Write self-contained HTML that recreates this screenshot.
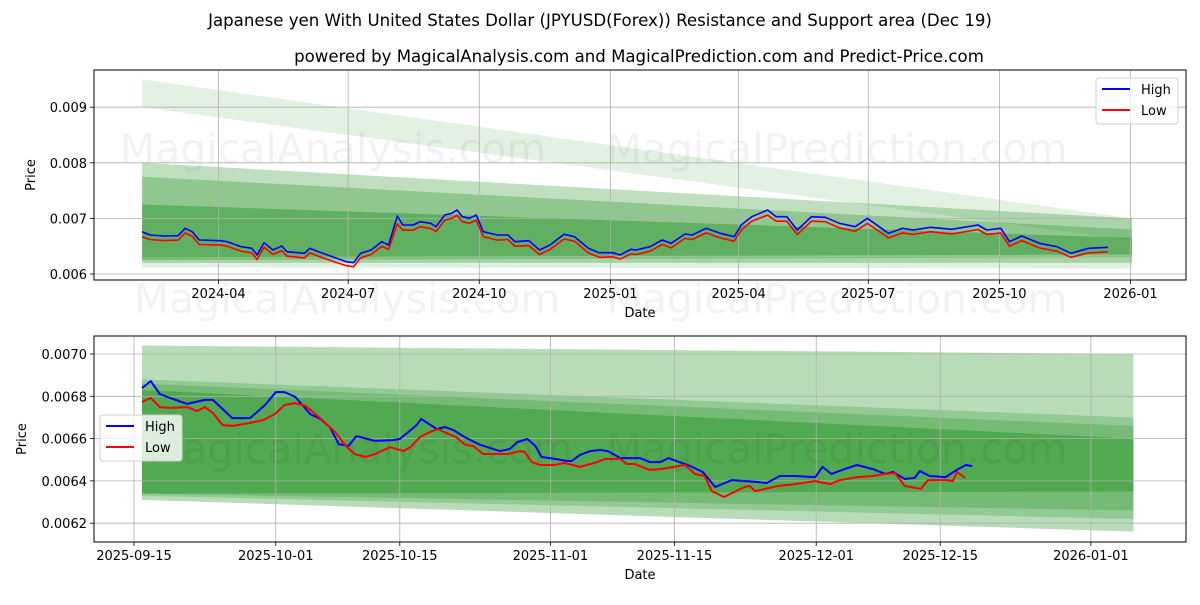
<!DOCTYPE html>
<html><head><meta charset="utf-8">
<style>
body{margin:0;background:#fff;}
svg text{font-family:"DejaVu Sans","Liberation Sans",sans-serif;}
</style></head>
<body>
<svg id="fig" width="1200" height="600" viewBox="0 0 1200 600" xmlns="http://www.w3.org/2000/svg">
<rect width="1200" height="600" fill="#fff"/>
<text x="600" y="26" font-size="16.6" text-anchor="middle">Japanese yen With United States Dollar (JPYUSD(Forex)) Resistance and Support area (Dec 19)</text>
<text x="639" y="62" font-size="16.6" text-anchor="middle">powered by MagicalAnalysis.com and MagicalPrediction.com and Predict-Price.com</text>
<g id="top"></g>
<g id="bot"></g>
</svg>
<script>
// ---------- TOP CHART DATA (x = days since 2024-04-01) ----------
const topDays=[-53.6,-48,-38.1,-28.3,-23.4,-18.5,-13.5,1.3,6.2,16,23.4,27.1,32,38.2,44.4,48,60.4,64,70.2,80,89.8,94.8,99.7,107.1,114.5,119.4,125.5,129.3,136.6,141.5,148.9,152.6,158.8,163.7,167.4,171.1,176,180.9,185.8,195.7,203.1,208,217.8,225.3,232.6,242.5,249.8,259.6,267.1,276.9,281.8,289.3,293,302.8,311.4,317.6,327.4,332.4,342.2,352.1,361.9,366.8,374.2,385.3,391.4,398.8,406.2,416.1,425.9,435.7,446.8,455.4,470.2,480.1,487.4,499.7,514.5,533,539.1,549,555.1,563.7,576.1,588.4,598.2,610.5,624.1];
const topHigh=[6.761,6.701,6.683,6.689,6.822,6.761,6.612,6.599,6.581,6.491,6.462,6.342,6.563,6.432,6.504,6.401,6.372,6.462,6.401,6.311,6.221,6.203,6.372,6.432,6.581,6.522,7.043,6.881,6.881,6.941,6.912,6.851,7.061,7.092,7.151,7.031,7.002,7.061,6.761,6.701,6.701,6.581,6.599,6.432,6.522,6.714,6.671,6.462,6.383,6.383,6.342,6.444,6.432,6.491,6.612,6.552,6.719,6.701,6.822,6.732,6.671,6.881,7.031,7.151,7.031,7.031,6.791,7.031,7.02,6.912,6.851,7.002,6.732,6.822,6.791,6.84,6.804,6.881,6.791,6.822,6.581,6.683,6.552,6.491,6.372,6.462,6.48];
const topLow=[6.67,6.62,6.6,6.61,6.74,6.68,6.53,6.52,6.5,6.41,6.38,6.26,6.48,6.35,6.42,6.32,6.29,6.38,6.32,6.23,6.15,6.13,6.29,6.35,6.5,6.44,6.9,6.79,6.79,6.85,6.82,6.76,6.97,7.0,7.06,6.94,6.91,6.97,6.67,6.61,6.62,6.5,6.51,6.35,6.44,6.63,6.59,6.38,6.3,6.31,6.27,6.36,6.35,6.41,6.53,6.47,6.64,6.62,6.74,6.65,6.59,6.79,6.95,7.06,6.95,6.95,6.71,6.95,6.94,6.83,6.77,6.91,6.65,6.74,6.71,6.76,6.72,6.8,6.71,6.74,6.5,6.6,6.47,6.41,6.3,6.38,6.4];
const topTickLabels=["2024-04","2024-07","2024-10","2025-01","2025-04","2025-07","2025-10","2026-01"];
const topTickDays=[0,91,183,275,365,456,548,640];
const topYTicks=[0.006,0.007,0.008,0.009];
const topBandLo0=[9.0,6.2,6.25,6.3,6.12];
const topBandHi0=[9.5,8.0,7.75,7.25,6.3];
const topBandLo1=[6.6,6.2,6.3,6.35,6.1];
const topBandHi1=[7.0,7.0,6.8,6.65,6.3];
const topBandAlpha=[0.11,0.25,0.25,0.32,0.12];

// ---------- BOTTOM CHART DATA (x = days since 2025-09-15) ----------
const botDaysH=[0.9,1.9,2.9,4.1,6,8,8.9,11.1,13.1,14.8,16,17,18.2,19.9,21,22.1,23.1,24.2,25.1,27.2,29.2,30,31.9,32.4,34.2,35.1,36,37.5,39.1,41.3,42.4,43.3,44.4,45.3,46,47.5,48.9,49.4,50.3,51.5,52.6,53.5,54.9,57.1,58.2,59.4,60.3,62.8,64.2,65.6,67.5,70.3,71.4,72.9,74.6,76.9,77.7,78.7,80.2,81.6,83.4,84.8,85.7,87,88.1,88.7,89.8,91.6,93,93.9,94.6];
const botHigh=[68.39,68.72,68.11,67.92,67.64,67.83,67.83,66.97,66.97,67.59,68.2,68.2,67.97,67.16,66.93,66.55,65.74,65.65,66.12,65.89,65.93,65.98,66.64,66.93,66.45,66.55,66.41,66.03,65.7,65.41,65.51,65.84,65.98,65.65,65.13,65.04,64.94,64.94,65.22,65.41,65.46,65.41,65.08,65.08,64.89,64.89,65.08,64.7,64.42,63.71,64.04,63.95,63.9,64.23,64.23,64.18,64.66,64.33,64.56,64.75,64.56,64.33,64.42,64.09,64.14,64.47,64.23,64.18,64.56,64.75,64.7];
const botDaysL=[0.9,1.9,2.9,4.1,6,7.1,8,8.9,10,11.2,13.1,14.6,15.9,17,18.2,19.4,21,22.7,23.8,24.9,26.1,27.2,28.9,30.4,31.2,32.3,33.4,34.3,35.3,36.3,37.4,38.3,39.4,40.7,42.2,43.6,44.1,44.9,45.8,47.5,48.6,50.3,52,53.2,54.9,55.6,56.5,58.2,59.4,62.2,63.3,64.4,65.2,66.6,68.9,69.5,70.1,72.7,74.6,76.9,78.6,79.7,81.6,83.4,84.8,85.9,87,88.8,89.6,91.8,92.4,92.9,93.8];
const botLow=[67.73,67.92,67.49,67.45,67.49,67.3,67.49,67.21,66.64,66.6,66.74,66.88,67.16,67.59,67.68,67.54,66.97,66.31,65.7,65.27,65.13,65.27,65.6,65.41,65.6,66.08,66.31,66.45,66.26,66.08,65.7,65.65,65.27,65.27,65.27,65.41,65.37,64.89,64.75,64.75,64.85,64.66,64.85,65.04,65.04,64.8,64.8,64.52,64.56,64.75,64.33,64.23,63.52,63.24,63.71,63.76,63.52,63.76,63.85,63.99,63.85,64.04,64.18,64.23,64.33,64.37,63.76,63.62,64.04,64.04,63.99,64.42,64.14];
const botTickLabels=["2025-09-15","2025-10-01","2025-10-15","2025-11-01","2025-11-15","2025-12-01","2025-12-15","2026-01-01"];
const botTickDays=[0,16,30,47,61,77,91,108];
const botYTicks=[0.0062,0.0064,0.0066,0.0068,0.0070];
const botBandLo0=[63.1,63.3,63.4,63.4];
const botBandHi0=[70.4,68.8,68.6,68.3];
const botBandLo1=[61.6,62.2,62.6,63.5];
const botBandHi1=[70.0,67.0,66.6,66.0];
const botBandAlpha=[0.28,0.2,0.2,0.3];

const NS="http://www.w3.org/2000/svg";
function mk(parent,tag,attrs){const e=document.createElementNS(NS,tag);for(const k in attrs)e.setAttribute(k,attrs[k]);parent.appendChild(e);return e;}

function drawChart(g,cfg){
  const {L,R,T,B,xs,ys}=cfg;
  for(let i=0;i<cfg.bandAlpha.length;i++){
    const x0=xs(cfg.bandX0),x1=xs(cfg.bandX1);
    const p=mk(g,'polygon',{points:`${x0},${ys(cfg.lo0[i]*cfg.unit)} ${x0},${ys(cfg.hi0[i]*cfg.unit)} ${x1},${ys(cfg.hi1[i]*cfg.unit)} ${x1},${ys(cfg.lo1[i]*cfg.unit)}`,fill:'#008000','fill-opacity':cfg.bandAlpha[i]});
    
    
  }
  cfg.marks.forEach(m=>{const t=mk(g,'text',{x:m[0],y:m[1],'font-size':41,fill:'#000','fill-opacity':0.05,'text-anchor':'middle'});
    
    
    t.textContent=m[2];});
  cfg.xTickDays.forEach((d,i)=>{const x=xs(d);
    const l=mk(g,'line',{x1:x,x2:x,y1:T,y2:B,stroke:'#b0b0b0','stroke-width':0.8});
    
    
    mk(g,'line',{x1:x,x2:x,y1:B,y2:B+4,stroke:'#000','stroke-width':0.8});
    const t=mk(g,'text',{x:x,y:B+18,'font-size':13,'text-anchor':'middle'});
    
    
    t.textContent=cfg.xLabels[i];});
  cfg.yTicks.forEach(v=>{const y=ys(v);
    const l=mk(g,'line',{x1:L,x2:R,y1:y,y2:y,stroke:'#b0b0b0','stroke-width':0.8});
    
    
    mk(g,'line',{x1:L-4,x2:L,y1:y,y2:y,stroke:'#000','stroke-width':0.8});
    const t=mk(g,'text',{x:L-7,y:y+5,'font-size':13,'text-anchor':'end'});
    
    
    t.textContent=v.toFixed(cfg.yDec);});
  const series=[[cfg.dH,cfg.high,'#0000ff','high-line'],[cfg.dL,cfg.low,'#ff0000','low-line']];
  series.forEach(s=>{const pts=s[0].map((d,i)=>xs(d).toFixed(1)+','+ys(s[1][i]*cfg.unit).toFixed(1)).join(' ');
    const pl=mk(g,'polyline',{points:pts,fill:'none',stroke:s[2],'stroke-width':cfg.lw,'stroke-linejoin':'round'});
    
    });
  const f=mk(g,'rect',{x:L,y:T,width:R-L,height:B-T,fill:'none',stroke:'#000','stroke-width':1});
  
  
  const xt=mk(g,'text',{x:(L+R)/2,y:B+37,'font-size':13,'text-anchor':'middle'});
  
  
  xt.textContent='Date';
  const yt=mk(g,'text',{x:0,y:0,'font-size':13,'text-anchor':'middle',transform:`translate(${cfg.yTitleX},${(T+B)/2}) rotate(-90)`});
  
  
  yt.textContent='Price';
  const lg=mk(g,'g',{});
  
  
  const [lx,ly]=cfg.leg;
  mk(lg,'rect',{x:lx,y:ly,width:82,height:46,rx:3,fill:'#fff','fill-opacity':0.8,stroke:'#d0d0d0'});
  [['High','#0000ff',ly+15],['Low','#ff0000',ly+36]].forEach(e=>{
    const eg=mk(lg,'g',{});
    
    
    mk(eg,'line',{x1:lx+6,x2:lx+34,y1:e[2]-4,y2:e[2]-4,stroke:e[1],'stroke-width':2});
    const t=mk(eg,'text',{x:lx+45,y:e[2]+1,'font-size':13});t.textContent=e[0];});
}

(function(){
  const L=94,R=1186,T=70,B=280;
  const xs=d=>218.5+d*1.425;
  const ys=v=>274-(v-0.006)*55600;
  drawChart(document.getElementById('top'),{L,R,T,B,xs,ys,unit:0.001,yDec:3,
    dH:topDays,dL:topDays,high:topHigh,low:topLow,lw:1.6,
    xTickDays:topTickDays,xLabels:topTickLabels,yTicks:topYTicks,
    bandX0:-53.6,bandX1:641,lo0:topBandLo0,hi0:topBandHi0,lo1:topBandLo1,hi1:topBandHi1,bandAlpha:topBandAlpha,
    yTitleX:35,leg:[1096,78],
    marks:[[333,163,'MagicalAnalysis.com'],[837,163,'MagicalPrediction.com'],[347,313,'MagicalAnalysis.com'],[837,313,'MagicalPrediction.com']]});
})();
(function(){
  const L=94,R=1186,T=336,B=542;
  const xs=d=>134+d*8.86;
  const ys=v=>354-(v-0.0070)*211500;
  drawChart(document.getElementById('bot'),{L,R,T,B,xs,ys,unit:0.0001,yDec:4,
    dH:botDaysH,dL:botDaysL,high:botHigh,low:botLow,lw:2,
    xTickDays:botTickDays,xLabels:botTickLabels,yTicks:botYTicks,
    bandX0:0.9,bandX1:112.8,lo0:botBandLo0,hi0:botBandHi0,lo1:botBandLo1,hi1:botBandHi1,bandAlpha:botBandAlpha,
    yTitleX:26,leg:[100,415],
    marks:[[360,463,'MagicalAnalysis.com'],[837,463,'MagicalPrediction.com']]});
})();
</script>
</body></html>
